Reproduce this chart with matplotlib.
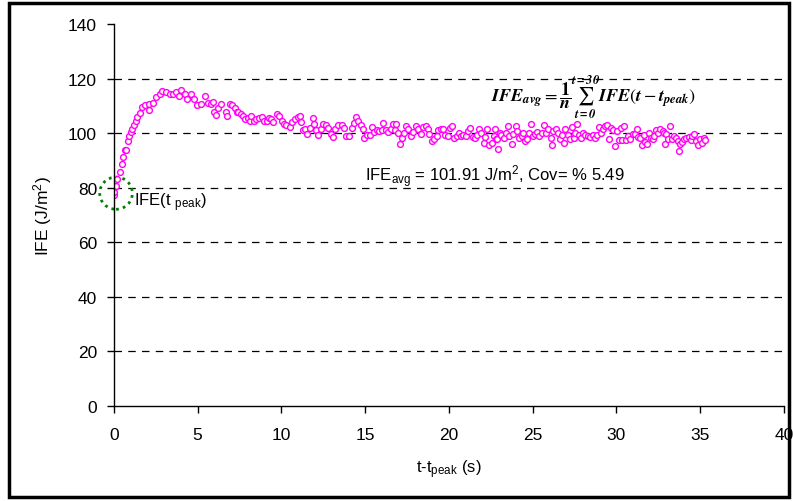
import matplotlib.pyplot as plt
from matplotlib.patches import Ellipse, Rectangle

plt.rcParams['font.family'] = ['Liberation Sans', 'DejaVu Sans']
plt.rcParams['mathtext.fontset'] = 'custom'
plt.rcParams['mathtext.rm'] = 'Liberation Sans'
plt.rcParams['mathtext.it'] = 'Liberation Sans:italic'

# time after peak (s) and measured IFE (J/m^2)
t_s = [0.00, 0.02, 0.14, 0.21, 0.38, 0.48, 0.57, 0.67, 0.72, 0.85, 0.93, 1.01, 1.11,
       1.21, 1.31, 1.41, 1.59, 1.70, 1.85, 2.09, 2.12, 2.34, 2.54, 2.74, 2.88, 3.14,
       3.34, 3.54, 3.73, 3.88, 4.03, 4.27, 4.39, 4.59, 4.79, 4.99, 5.22, 5.46, 5.64,
       5.80, 5.94, 6.00, 6.10, 6.24, 6.40, 6.68, 6.74, 6.94, 7.07, 7.23, 7.33, 7.40,
       7.59, 7.73, 7.83, 8.03, 8.13, 8.22, 8.38, 8.52, 8.66, 8.83, 8.98, 9.12, 9.26,
       9.38, 9.52, 9.72, 9.86, 10.02, 10.17, 10.31, 10.51, 10.65, 10.81, 10.97, 11.11,
       11.20, 11.30, 11.40, 11.55, 11.69, 11.87, 11.95, 12.07, 12.21, 12.35, 12.51,
       12.67, 12.80, 12.94, 13.10, 13.20, 13.40, 13.60, 13.73, 13.89, 14.05, 14.19,
       14.33, 14.45, 14.59, 14.73, 14.85, 14.93, 15.09, 15.29, 15.39, 15.53, 15.69,
       15.85, 15.99, 16.09, 16.25, 16.39, 16.53, 16.65, 16.79, 16.83, 16.97, 17.07,
       17.21, 17.33, 17.47, 17.57, 17.73, 17.87, 18.01, 18.17, 18.33, 18.47, 18.61,
       18.73, 18.81, 19.01, 19.13, 19.27, 19.37, 19.53, 19.67, 19.77, 19.93, 20.07,
       20.21, 20.33, 20.47, 20.61, 20.73, 20.87, 21.01, 21.13, 21.27, 21.41, 21.53,
       21.67, 21.81, 21.93, 22.07, 22.17, 22.27, 22.41, 22.57, 22.67, 22.73, 22.80,
       22.88, 22.94, 23.04, 23.14, 23.28, 23.40, 23.54, 23.60, 23.74, 23.84, 24.00,
       24.08, 24.20, 24.34, 24.44, 24.54, 24.68, 24.80, 24.88, 25.00, 25.14, 25.24,
       25.40, 25.54, 25.68, 25.80, 25.94, 26.08, 26.14, 26.24, 26.40, 26.54, 26.64,
       26.74, 26.84, 26.94, 27.08, 27.20, 27.34, 27.44, 27.54, 27.64, 27.74, 27.88,
       28.00, 28.14, 28.30, 28.44, 28.58, 28.72, 28.86, 28.96, 29.06, 29.22, 29.30,
       29.46, 29.56, 29.70, 29.82, 29.90, 30.02, 30.16, 30.30, 30.36, 30.46, 30.56,
       30.70, 30.82, 30.96, 31.10, 31.22, 31.30, 31.42, 31.50, 31.62, 31.70, 31.82,
       31.96, 32.06, 32.16, 32.26, 32.36, 32.50, 32.62, 32.76, 32.86, 32.90, 32.96,
       33.10, 33.22, 33.30, 33.42, 33.56, 33.66, 33.76, 33.82, 33.90, 34.02, 34.16,
       34.30, 34.42, 34.50, 34.62, 34.74, 34.86, 34.98, 35.10, 35.20, 35.30]

ife = [77.2, 78.6, 80.6, 83.3, 85.8, 88.8, 91.3, 93.7, 93.9, 97.2, 99.0, 100.4, 101.7,
       102.9, 104.3, 105.8, 107.5, 109.6, 110.2, 110.8, 108.4, 111.2, 113.3, 114.2, 115.3, 114.9,
       114.2, 114.5, 114.9, 113.7, 115.7, 114.2, 112.4, 114.2, 112.4, 110.2, 110.8, 113.7, 111.2,
       110.8, 111.4, 107.8, 106.5, 109.2, 110.5, 107.8, 106.3, 110.8, 110.2, 109.2, 107.8, 107.6,
       107.2, 106.3, 105.1, 105.6, 104.3, 106.3, 104.3, 105.1, 105.6, 105.9, 104.3, 104.3, 105.6,
       105.1, 104.1, 107.2, 106.3, 104.6, 103.5, 102.9, 102.3, 104.1, 105.1, 106.0, 106.3,
       104.1, 101.0, 101.7, 99.8, 101.9, 105.6, 103.5, 101.0, 99.4, 101.4, 103.5,
       103.1, 101.9, 99.8, 98.6, 101.4, 103.1, 103.1, 101.9, 99.0, 99.0, 101.9,
       103.9, 105.9, 104.3, 103.1, 101.7, 98.2, 99.4, 99.2, 102.3, 100.4, 101.0,
       100.7, 101.0, 103.9, 101.0, 100.4, 101.4, 103.5, 101.0, 103.5, 100.2, 96.1,
       98.2, 100.2, 102.6, 101.4, 99.0, 100.4, 102.6, 101.4, 99.8, 102.3, 102.6,
       101.4, 99.8, 97.0, 97.7, 99.0, 101.0, 101.4, 101.4, 99.4, 99.0, 101.9,
       102.6, 98.2, 99.0, 100.2, 99.0, 99.4, 99.0, 100.7, 101.9, 98.6, 98.2,
       99.4, 101.4, 100.2, 96.5, 98.6, 101.4, 95.8, 96.5, 99.0, 101.4, 97.7,
       97.7, 94.3, 100.2, 99.4, 98.2, 100.2, 102.6, 99.0, 96.1, 99.8, 102.6,
       100.7, 98.2, 99.0, 100.2, 97.0, 97.7, 100.2, 103.5, 99.0, 99.8, 100.4,
       99.0, 100.2, 102.9, 100.2, 101.4, 98.2, 95.8, 100.7, 101.4, 100.2, 97.7,
       99.4, 96.5, 101.4, 99.4, 97.7, 102.3, 98.2, 100.2, 103.5, 99.4, 98.2,
       100.2, 99.4, 99.0, 98.6, 99.2, 98.2, 99.4, 102.3, 100.2, 101.4, 102.6,
       103.1, 98.0, 101.9, 101.0, 95.3, 100.7, 97.4, 101.9, 97.4, 102.6, 97.4,
       99.0, 97.7, 99.8, 99.8, 101.4, 98.6, 98.2, 95.8, 99.4, 96.8, 96.1,
       100.2, 98.2, 97.7, 99.0, 101.0, 100.2, 101.4, 100.7, 100.2, 96.1, 99.8,
       97.7, 102.6, 97.7, 99.0, 98.2, 97.0, 93.3, 96.1, 96.8, 97.7, 98.2,
       98.6, 97.4, 99.0, 99.8, 97.0, 95.5, 97.7, 96.5, 98.2, 97.4]

fig = plt.figure(figsize=(7.93, 5.02), dpi=100)
ax = fig.add_axes([0.1434, 0.1892, 0.8453, 0.7610])

ax.plot(t_s, ife, linestyle='none', marker='o', markersize=4.2,
        markeredgewidth=1.0, markeredgecolor='#ff00ff', markerfacecolor='#fffde0')

ax.set_xlim(0, 40)
ax.set_ylim(0, 140)
ax.set_xticks(range(0, 41, 5))
ax.set_yticks(range(0, 141, 20))
ax.tick_params(axis='both', direction='out', length=5, width=1, labelsize=12.5,
               colors='black')
ax.tick_params(axis='x', pad=10)
ax.tick_params(axis='y', pad=7)

# dashed horizontal gridlines, none at the top
for g in range(20, 121, 20):
    ax.axhline(g, color='black', linestyle=(0, (6, 5)), linewidth=0.9, zorder=0)

for side in ['top', 'right']:
    ax.spines[side].set_visible(False)
for side in ['left', 'bottom']:
    ax.spines[side].set_linewidth(1.0)

ax.set_xlabel(r't-t$_{\rm peak}$ (s)', fontsize=12, labelpad=11)
ax.set_ylabel(r'IFE (J/m$^{2}$)', fontsize=12.5, labelpad=10)

# peak marker
ax.add_patch(Ellipse((0.14, 78.0), 1.95, 11.8, fill=False, edgecolor='#008000',
                     linestyle=(0, (1, 1.5)), linewidth=2.0, clip_on=False))
ax.text(1.2, 74.8, r'IFE(t $_{\rm peak}$)', fontsize=12, va='center', ha='left')

ax.text(15.0, 84.5, r'IFE$_{\rm avg}$ = 101.91 J/m$^{2}$, Cov= % 5.49',
        fontsize=12, va='center', ha='left')

ax.text(22.5, 113.4,
        r'$\mathbfit{IFE}_{\mathbfit{avg}} = \dfrac{\mathbf{1}}{\mathbfit{n}}'
        r'\sum_{\mathbfit{t=0}}^{\mathbfit{t=30}}'
        r'\mathbfit{IFE}(\mathbfit{t} - \mathbfit{t}_{\mathbfit{peak}})$',
        fontsize=13, va='center', ha='left', math_fontfamily='stix')

# frame around the whole figure
fig.patches.append(Rectangle((0.011, 0.008), 0.984, 0.984, transform=fig.transFigure,
                             fill=False, edgecolor='black', linewidth=2.5))

fig.savefig('out.png', dpi=100)
